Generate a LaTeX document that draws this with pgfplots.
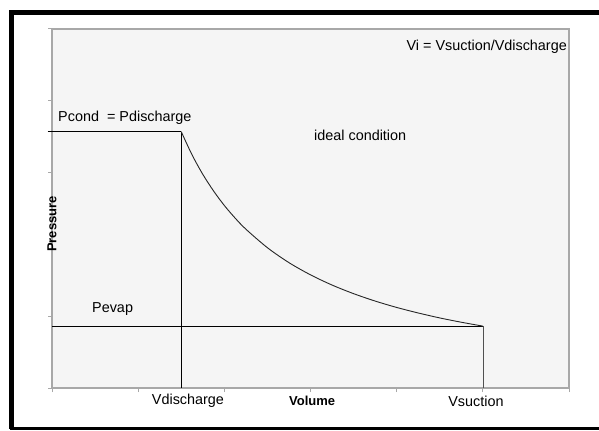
\documentclass[border=0pt]{standalone}
\usepackage{pgfplots}
\pgfplotsset{compat=1.18}
\usepackage{fontspec}
\setmainfont{Liberation Sans}
\definecolor{axisgrey}{RGB}{168,168,168}
\definecolor{bggrey}{RGB}{245,245,245}
\definecolor{vline}{RGB}{80,80,80}
\begin{document}
\begin{tikzpicture}[x=1bp,y=1bp]
\path[use as bounding box] (0,0) rectangle (599,430);
\fill[white] (0,0) rectangle (599,430);
\begin{axis}[
  at={(52bp,42bp)}, anchor=south west,
  scale only axis, width=517bp, height=359bp,
  xmin=0, xmax=6, ymin=0, ymax=5,
  xtick={0,1,2,3,4,5,6}, ytick={0,1,2,3,4,5},
  xticklabels={}, yticklabels={},
  xtick pos=lower, ytick pos=left,
  tick align=outside, major tick length=4bp,
  tick style={axisgrey, line width=1bp},
  axis line style={axisgrey, line width=1.6bp},
  axis background/.style={fill=bggrey},
  clip=false,
  every axis plot/.append style={no marks},
]
% Pcond line
\addplot[black, line width=0.9bp] coordinates {(-0.05,3.57) (1.5,3.57)};
% Vdischarge vertical
\addplot[black, line width=0.9bp] coordinates {(1.5,3.57) (1.5,0)};
% Pevap line
\addplot[black, line width=0.9bp] coordinates {(0,0.864) (5.0,0.864)};
% Vsuction vertical
\addplot[vline, line width=1.3bp] coordinates {(5.01,0.864) (5.01,0)};
% compression curve
\addplot[black!85, line width=0.9bp, smooth] coordinates {
(1.5,3.57) (1.625,3.248) (1.75,2.976) (1.875,2.744) (2,2.542) (2.125,2.367) (2.25,2.212) (2.5,1.954) (2.75,1.746)
(3,1.576) (3.25,1.434) (3.5,1.314) (3.75,1.211) (4,1.122) (4.25,1.045)
(4.5,0.976) (4.75,0.916) (5,0.862)};
\node[anchor=west, inner sep=0pt, font=\fontsize{14.4bp}{17bp}\selectfont] at (axis cs:0.07,3.77) {Pcond\ \ = Pdischarge};
\node[anchor=west, inner sep=0pt, font=\fontsize{14.4bp}{17bp}\selectfont] at (axis cs:0.464,1.10) {Pevap};
\node[anchor=west, inner sep=0pt, font=\fontsize{14.4bp}{17bp}\selectfont] at (axis cs:3.04,3.52) {ideal condition};
\node[anchor=east, inner sep=0pt, font=\fontsize{14.4bp}{17bp}\selectfont] at (axis cs:5.977,4.75) {Vi = Vsuction/Vdischarge};
\node[inner sep=0pt, font=\fontsize{14.4bp}{17bp}\selectfont] at (axis cs:1.578,0) [yshift=-13bp] {Vdischarge};
\node[inner sep=0pt, font=\fontsize{14.4bp}{17bp}\selectfont] at (axis cs:4.92,0) [yshift=-13bp] {Vsuction};
\node[inner sep=0pt, font=\fontsize{13bp}{15bp}\selectfont\bfseries] at (axis cs:3.02,0) [yshift=-13bp] {Volume};
\node[inner sep=0pt, rotate=90, font=\fontsize{13bp}{15bp}\selectfont\bfseries] at (axis cs:0,2.48) [xshift=-14bp] {Pressure};
\end{axis}
\draw[black, line width=4.5bp] (599,417.5) -- (11.5,417.5) -- (11.5,1.5);
\draw[black, line width=3bp] (10,1.5) -- (599,1.5);
\end{tikzpicture}
\end{document}
